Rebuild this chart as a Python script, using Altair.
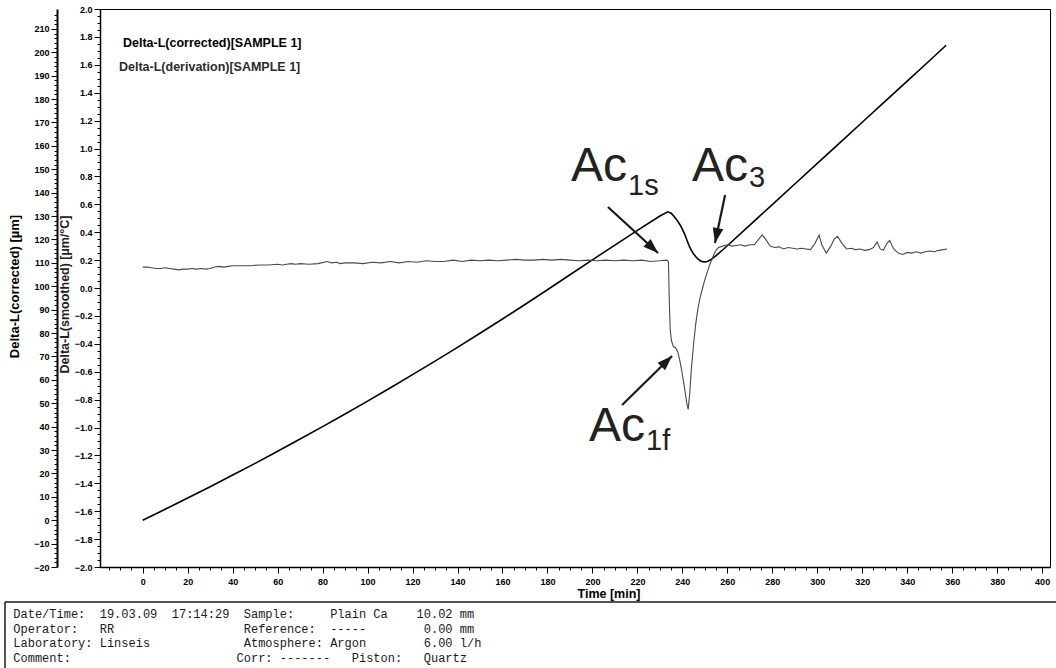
import math
import altair as alt
import pandas as pd

# ---------------- measured series ----------------
# Delta-L (corrected) in µm versus time in min
corr_time = [0, 10, 20, 30, 40, 50, 60, 70, 80, 90, 100, 110, 120, 130, 140, 150,
             160, 170, 180, 190, 200, 210, 220, 230, 233.5,
             235, 236, 237, 238, 239, 240, 241, 242, 243, 244, 245, 246, 247,
             248, 249, 250, 251, 252, 253, 254, 255, 256, 257, 258, 260,
             270, 280, 290, 300, 310, 320, 330, 340, 350, 357.3]
corr_um = [0, 4.7, 9.5, 14.3, 19.3, 24.3, 29.5, 34.7, 40.0, 45.4, 50.9, 56.5, 62.2,
           68.0, 73.9, 79.9, 86.0, 92.2, 98.5, 104.9, 111.3, 117.6, 123.9, 130.0, 131.8,
           131.2, 130.2, 129.0, 127.7, 126.2, 124.4, 122.3, 119.8, 117.3, 115.3, 113.8,
           112.6, 111.6, 110.9, 110.5, 110.4, 110.6, 111.0, 111.6, 112.3, 113.1, 113.9,
           114.8, 115.6, 117.3,
           126.1, 134.9, 143.7, 152.5, 161.3, 170.1, 178.9, 187.7, 196.5, 203.0]

# Delta-L (smoothed derivative) in µm/°C versus time in min
deriv_time = [0, 2, 4, 6, 8, 10, 12, 14, 16, 18, 20, 22, 24, 26, 28, 30, 32, 34, 36, 38,
              40, 44, 48, 52, 56, 60, 62, 64, 66, 68, 70, 74, 78, 82, 84, 86, 88, 90, 94,
              98, 102, 106, 110, 114, 118, 122, 126, 130, 134, 138, 142, 146, 150, 154,
              158, 162, 166, 170, 174, 178, 182, 186, 190, 194, 198, 202, 206, 210, 214,
              218, 222, 226, 230, 233, 233.8, 234.2, 234.6, 235.2, 236, 237, 238, 239,
              240, 241, 242, 242.6, 243.3, 244, 245, 246, 247, 248, 249, 250, 251, 252,
              253, 254, 255, 256, 258, 260, 262, 264, 266, 268, 270, 272, 274, 275.5,
              277, 279, 281, 283, 285, 287, 289, 291, 293, 295, 297, 299, 300.8, 302,
              304, 306, 307.5, 309, 311, 313, 315, 317, 319, 321, 323, 325, 326.6, 328,
              329.4, 331, 332.2, 334, 336, 338, 340, 342, 344, 346, 348, 350, 352, 354,
              356, 357.7]
deriv_val = [0.15, 0.15, 0.145, 0.14, 0.14, 0.145, 0.14, 0.135, 0.13, 0.135, 0.135,
             0.14, 0.135, 0.14, 0.135, 0.14, 0.15, 0.155, 0.15, 0.155, 0.16, 0.16, 0.16,
             0.165, 0.165, 0.17, 0.165, 0.17, 0.175, 0.17, 0.175, 0.17, 0.175, 0.19,
             0.18, 0.185, 0.175, 0.18, 0.18, 0.175, 0.185, 0.18, 0.19, 0.18, 0.19, 0.185,
             0.195, 0.19, 0.19, 0.2, 0.19, 0.2, 0.195, 0.2, 0.195, 0.2, 0.205, 0.2, 0.2,
             0.205, 0.2, 0.205, 0.2, 0.195, 0.2, 0.195, 0.2, 0.195, 0.2, 0.195, 0.2,
             0.19, 0.195, 0.2, 0.19, -0.1, -0.3, -0.38, -0.42, -0.43, -0.46, -0.53,
             -0.62, -0.72, -0.83, -0.87, -0.75, -0.58, -0.4, -0.25, -0.14, -0.06, 0.0,
             0.06, 0.11, 0.16, 0.2, 0.24, 0.27, 0.29, 0.3, 0.31, 0.3, 0.305, 0.31, 0.3,
             0.31, 0.31, 0.35, 0.38, 0.35, 0.3, 0.29, 0.295, 0.28, 0.29, 0.285, 0.28,
             0.285, 0.28, 0.275, 0.32, 0.38, 0.31, 0.25, 0.3, 0.35, 0.37, 0.32, 0.28,
             0.285, 0.275, 0.28, 0.27, 0.275, 0.29, 0.33, 0.28, 0.27, 0.32, 0.34, 0.28,
             0.25, 0.24, 0.255, 0.25, 0.26, 0.25, 0.26, 0.265, 0.26, 0.27, 0.275, 0.28]

# transformation points: label, subscript, text anchor, arrow tail and tip (time, µm/°C)
phase_names = ["Ac", "Ac", "Ac"]
phase_subs = ["1s", "3", "1f"]
label_time = [215.4, 269.2, 223.4]
label_val = [0.767, 0.767, -1.097]
sub_val = [0.667, 0.724, -1.161]
tail_time = [206.9, 259.0, 213.2]
tail_val = [0.581, 0.667, -0.839]
tip_time = [229.2, 254.5, 235.4]
tip_val = [0.251, 0.323, -0.487]

# axis tick positions
x_ticks = list(range(-15, 405, 5))
left_ticks = list(range(-20, 218, 2))
right_ticks = [round(-2 + 0.05 * i, 2) for i in range(81)]

legend_lines = ["Delta-L(corrected)[SAMPLE 1]", "Delta-L(derivation)[SAMPLE 1]"]

NB = "\u00a0"


def col(s, n):
    return s.ljust(n).replace(" ", NB)


footer_lines = [
    col("Date/Time:", 12) + col("19.03.09", 10) + col("17:14:29", 10) + col("Sample:", 12)
    + col("Plain Ca", 12) + col("10.02 mm", 8),
    col("Operator:", 12) + col("RR", 20) + col("Reference:", 12) + col("-----", 13)
    + col("0.00 mm", 7),
    col("Laboratory:", 12) + col("Linseis", 20) + col("Atmosphere:", 12) + col("Argon", 13)
    + col("6.00 l/h", 8),
    col("Comment:", 31) + col("Corr:", 6) + col("-------", 10) + col("Piston:", 10)
    + col("Quartz", 6),
]

# ---------------- geometry ----------------
W, H = 950, 558
T_DOMAIN = [-19, 403.5]
U_DOMAIN = [-20, 218.5]
V_DOMAIN = [-2.0, 2.0]

px_t = W / (T_DOMAIN[1] - T_DOMAIN[0])
px_v = H / (V_DOMAIN[1] - V_DOMAIN[0])

LABEL_FONT = "Liberation Sans"
TITLE_FONT = "Liberation Sans"

corr_df = pd.DataFrame({"t": corr_time, "u": corr_um})
deriv_df = pd.DataFrame({"t": deriv_time, "v": deriv_val})

angles = []
for t0, v0, t1, v1 in zip(tail_time, tail_val, tip_time, tip_val):
    dx = (t1 - t0) * px_t
    dy = -(v1 - v0) * px_v
    angles.append((math.degrees(math.atan2(dx, -dy)) + 360) % 360)

arrow_df = pd.DataFrame({"t0": tail_time, "v0": tail_val, "t1": tip_time,
                         "v1": tip_val, "ang": angles})
label_df = pd.DataFrame({"t": label_time, "v": label_val, "name": phase_names,
                         "vs": sub_val, "sub": phase_subs})

common_axis = dict(
    labelOverlap=False, labelFlush=False, grid=False,
    domain=True, domainColor="black",
    tickColor="black", tickWidth=1,
    labelFont=LABEL_FONT, labelFontWeight=900, labelFontSize=9, labelColor="black",
    titleFont=TITLE_FONT, titleFontWeight="bold",
)

x_axis = alt.Axis(
    values=x_ticks,
    labelExpr="datum.value % 20 == 0 && datum.value >= 0 ? datum.label : ''",
    tickSize={"condition": {"test": "datum.value % 20 == 0", "value": 6}, "value": 3},
    domainWidth=1.5, labelPadding=4,
    title="Time  [min]", titleFontSize=12.5, titleColor="black",
    titleX=477, titleY=30, titleAlign="left", titleAnchor="start",
    titleBaseline="alphabetic",
    **common_axis,
)

left_axis = alt.Axis(
    orient="left", offset=43, values=left_ticks,
    labelExpr="datum.value % 10 == 0 && datum.value <= 210 ? datum.label : ''",
    tickSize={"condition": {"test": "datum.value % 10 == 0", "value": 6}, "value": 3},
    domainWidth=2, labelPadding=2,
    title="Delta-L(corrected)  [µm]", titleFontSize=13, titleColor="black",
    titleX=-36, titleY=H / 2 - 2, titleAngle=270, titleAlign="center",
    titleBaseline="bottom",
    **common_axis,
)

right_axis = alt.Axis(
    orient="left", offset=0, values=right_ticks, format=".1f",
    labelExpr="abs(datum.value * 5 - round(datum.value * 5)) < 0.001 ? datum.label : ''",
    tickSize={"condition": {"test": "abs(datum.value * 5 - round(datum.value * 5)) < 0.001",
                            "value": 6}, "value": 3},
    domainWidth=1.5, labelPadding=2,
    title="Delta-L(smoothed)  [µm/°C]", titleFontSize=12.5, titleColor="#222222",
    titleX=-29, titleY=H / 2 + 6, titleAngle=270, titleAlign="center",
    titleBaseline="bottom",
    **common_axis,
)


def xq(field):
    return alt.X(f"{field}:Q", scale=alt.Scale(domain=T_DOMAIN, nice=False, zero=False),
                 axis=x_axis)


def vq(field):
    return alt.Y(f"{field}:Q", scale=alt.Scale(domain=V_DOMAIN, nice=False, zero=False),
                 axis=right_axis)


# corrected length change on the outer left axis
corrected = alt.Chart(corr_df).mark_line(color="black", strokeWidth=1.6).encode(
    x=xq("t"),
    y=alt.Y("u:Q", scale=alt.Scale(domain=U_DOMAIN, nice=False, zero=False), axis=left_axis),
    order="t:Q",
)

# derivative on the inner left axis
derivative = alt.Chart(deriv_df).mark_line(color="#4a4a4a", strokeWidth=1.1).encode(
    x=xq("t"), y=vq("v"), order="t:Q"
)

shafts = alt.Chart(arrow_df).mark_rule(color="#1a1a1a", strokeWidth=2.2).encode(
    x=xq("t0"), x2="t1:Q", y=vq("v0"), y2="v1:Q"
)

heads = alt.Chart(arrow_df).mark_point(
    shape="M0,0L-0.75,2.1L0.75,2.1Z", filled=True, color="#1a1a1a", opacity=1, size=204
).encode(
    x=xq("t1"), y=vq("v1"), angle=alt.Angle("ang:Q", scale=None)
)

names = alt.Chart(label_df).mark_text(
    font=TITLE_FONT, fontSize=48, color="#222222", align="right", baseline="alphabetic"
).encode(x=xq("t"), y=vq("v"), text="name:N")

subs = alt.Chart(label_df).mark_text(
    font=TITLE_FONT, fontSize=29, color="#222222", align="left", baseline="alphabetic", dx=1
).encode(x=xq("t"), y=vq("vs"), text="sub:N")

outer_group = alt.layer(corrected)
inner_group = alt.layer(derivative, shafts, heads, names, subs)

legend1 = alt.Chart(pd.DataFrame({"s": [legend_lines[0]]})).mark_text(
    font=TITLE_FONT, fontWeight="bold", fontSize=12.5, color="black",
    align="left", baseline="middle"
).encode(x=alt.value(23), y=alt.value(34), text="s:N")

legend2 = alt.Chart(pd.DataFrame({"s": [legend_lines[1]]})).mark_text(
    font=TITLE_FONT, fontWeight="bold", fontSize=12.5, color="#2b2b2b",
    align="left", baseline="middle"
).encode(x=alt.value(19), y=alt.value(58), text="s:N")

footer_text = alt.Chart(pd.DataFrame({"s": ["\n".join(footer_lines)]})).mark_text(
    font="Liberation Mono", fontSize=12, color="#1a1a1a", align="left",
    baseline="alphabetic", lineBreak="\n", lineHeight=14.5
).encode(x=alt.value(-86.7), y=alt.value(609), text="s:N")

footer_top = alt.Chart(pd.DataFrame({"k": [0]})).mark_rule(
    color="#555555", strokeWidth=2
).encode(x=alt.value(-95), x2=alt.value(956), y=alt.value(593))

footer_left = alt.Chart(pd.DataFrame({"k": [0]})).mark_rule(
    color="#555555", strokeWidth=2
).encode(x=alt.value(-95), y=alt.value(593), y2=alt.value(659))

chart = alt.layer(
    outer_group, inner_group, legend1, legend2, footer_text, footer_top, footer_left
).resolve_scale(y="independent").properties(
    width=W, height=H,
    autosize=alt.AutoSizeParams(type="none"),
    padding={"left": 100, "top": 9, "right": 6, "bottom": 101},
    background="white",
).configure_view(stroke="black", strokeWidth=1)

chart.save("out.html", embed_options={"renderer": "svg", "actions": False})
